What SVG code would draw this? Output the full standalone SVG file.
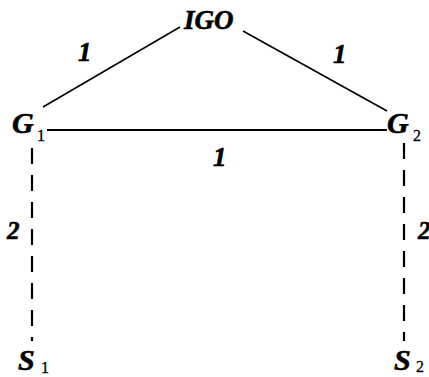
<svg xmlns="http://www.w3.org/2000/svg" width="429" height="377" viewBox="0 0 429 377">
<style>
.lbl{font-family:"Liberation Serif","Times New Roman",serif;font-weight:bold;font-style:italic;fill:#000;stroke:#000;stroke-width:0.6}
.sub{font-family:"Liberation Serif","Times New Roman",serif;font-weight:normal;font-style:normal;font-size:16px;fill:#000;stroke:#000;stroke-width:0.3}
.solid{stroke:#000;stroke-width:1.6;fill:none}
.thick{stroke:#000;stroke-width:2.2;fill:none}
.dash{stroke:#000;stroke-width:2.2;fill:none;stroke-dasharray:16 11}
</style>
<rect width="429" height="377" fill="#fff"/>
<g id="connectors">
<line class="solid" x1="180" y1="27" x2="43" y2="107"/>
<line class="solid" x1="243" y1="31" x2="387" y2="111"/>
<line class="thick" x1="47" y1="130" x2="387" y2="130"/>
<line class="dash" x1="32" y1="148" x2="32" y2="341"/>
<line class="dash" x1="404" y1="143" x2="404" y2="341"/>
<text class="lbl" x="78" y="61" font-size="27">1</text>
<text class="lbl" x="333" y="63" font-size="27">1</text>
<text class="lbl" x="213" y="166" font-size="27">1</text>
<text class="lbl" x="7" y="239" font-size="25">2</text>
<text class="lbl" x="418" y="239" font-size="25">2</text>
</g>
<g id="IGO"><text class="lbl" x="184" y="29" font-size="27">IGO</text></g>
<g id="G1"><text class="lbl" x="12" y="133" font-size="30">G</text><text class="sub" x="37" y="141">1</text></g>
<g id="G2"><text class="lbl" x="387" y="133" font-size="30">G</text><text class="sub" x="413" y="141">2</text></g>
<g id="S1"><text class="lbl" x="18" y="370" font-size="30">S</text><text class="sub" x="41" y="373">1</text></g>
<g id="S2"><text class="lbl" x="394" y="370" font-size="30">S</text><text class="sub" x="416" y="372">2</text></g>
</svg>
